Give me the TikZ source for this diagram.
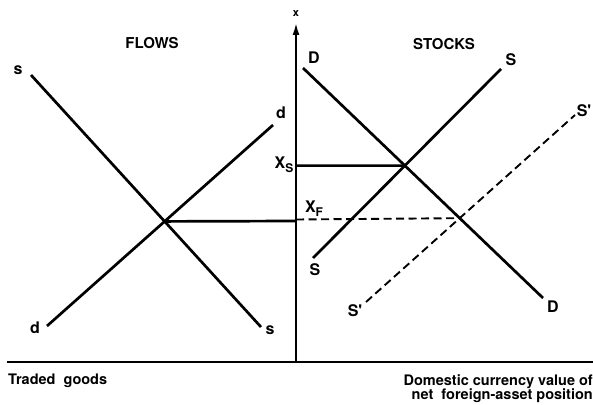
\documentclass[tikz,border=0pt]{standalone}
\usepackage{fontspec}
\setmainfont{TeX Gyre Heros}
\usetikzlibrary{arrows.meta}
\begin{document}
\begin{tikzpicture}[x=1pt,y=-1pt,
  curve/.style={line width=2.7pt},
  dcurve/.style={line width=1.9pt,dash pattern=on 8pt off 4.5pt},
  axisline/.style={line width=1.8pt},
  lbl/.style={font=\bfseries\fontsize{16}{16}\selectfont,inner sep=0pt},
  title/.style={font=\bfseries\fontsize{15}{16}\selectfont,inner sep=0pt},
  captext/.style={font=\bfseries\fontsize{14.5}{13}\selectfont,inner sep=0pt,align=right}]
\useasboundingbox (0,0) rectangle (593,404);
% axes
\coordinate (O) at (296,362);
\coordinate (Top) at (296,23);
\coordinate (L) at (7,362);
\coordinate (R) at (593,362);
\draw[axisline] (L) -- (R);
\draw[axisline,-{Latex[length=12pt,width=7pt]}] (O) -- (Top);
\node[lbl,font=\bfseries\fontsize{11}{11}\selectfont] (xlab) at (296,14) {x};
% titles
\node[title] (flows) at (152,43) {FLOWS};
\node[title] (stocks) at (444,44) {STOCKS};
% flows curves
\coordinate (s1) at (31,75);
\coordinate (s2) at (261,327);
\coordinate (d1) at (47,326);
\coordinate (d2) at (273,125);
\draw[curve] (s1) -- (s2);
\draw[curve] (d1) -- (d2);
\coordinate (EF) at (intersection of s1--s2 and d1--d2);
\coordinate (EFax) at (296,221);
\draw[curve] (EF) -- (EFax);
\node[lbl] (sl1) at (18,70) {s};
\node[lbl] (sl2) at (270,330) {s};
\node[lbl] (dl1) at (35,328) {d};
\node[lbl] (dl2) at (281,113) {d};
% stocks curves
\coordinate (D1) at (303,68);
\coordinate (D2) at (543,298);
\coordinate (S1) at (313,258);
\coordinate (S2) at (501,69);
\coordinate (Sp1) at (366,302);
\coordinate (Sp2) at (575,115);
\draw[curve] (D1) -- (D2);
\draw[curve] (S1) -- (S2);
\draw[dcurve] (Sp1) -- (Sp2);
\coordinate (ES) at (intersection of D1--D2 and S1--S2);
\coordinate (ESp) at (intersection of D1--D2 and Sp1--Sp2);
\coordinate (XSax) at (296,165.6);
\coordinate (XFax) at (296,219.5);
\draw[curve] (XSax) -- (ES);
\draw[dcurve] (XFax) -- (ESp);
\node[lbl] (Dl1) at (314,58) {D};
\node[lbl] (Dl2) at (553,307) {D};
\node[lbl] (Sl1) at (511,60) {S};
\node[lbl] (Sl2) at (315,270) {S};
\node[lbl] (Spl1) at (584,111) {S\textquotesingle};
\node[lbl] (Spl2) at (355,311) {S\textquotesingle};
\node[lbl] (XS) at (284,165) {X\raisebox{-4pt}{\fontsize{12}{12}\selectfont S}};
\node[lbl] (XF) at (314,209) {X\raisebox{-4pt}{\fontsize{12}{12}\selectfont F}};
% captions
\node[captext,anchor=north west] (traded) at (8,374) {Traded\ \ goods};
\node[captext,anchor=north east] (dom) at (593,374) {Domestic currency value of\\net\ \ foreign-asset position};
\end{tikzpicture}
\end{document}
